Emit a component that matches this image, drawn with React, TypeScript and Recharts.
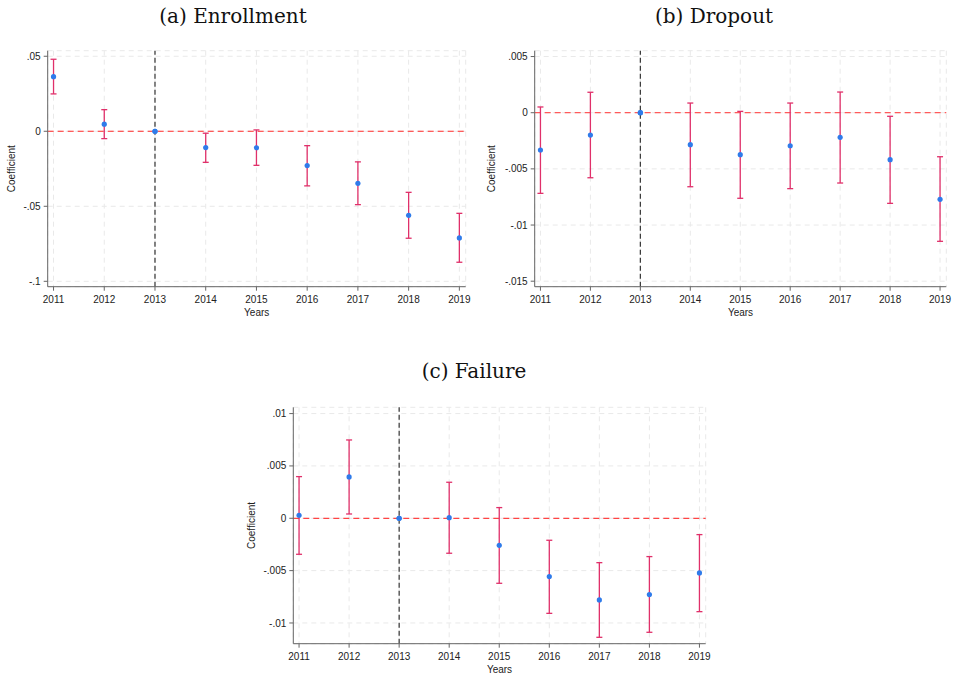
import React from 'react';
import {
    ScatterChart,
    Scatter,
    XAxis,
    YAxis,
    CartesianGrid,
    ReferenceLine,
    ReferenceDot,
    ErrorBar,
} from 'recharts';

// event-study years (2013 is the omitted reference year)
const years = [2011, 2012, 2013, 2014, 2015, 2016, 2017, 2018, 2019];
const baseYear = 2013;

// (a) Enrollment
const enrollCoef = [0.0364, 0.0047, 0, -0.0109, -0.011, -0.0229, -0.0347, -0.056, -0.0711];
const enrollLo = [0.0249, -0.0049, null, -0.0207, -0.0227, -0.0364, -0.0489, -0.0713, -0.0873];
const enrollHi = [0.048, 0.0144, null, -0.0013, 0.0009, -0.0096, -0.0204, -0.0407, -0.0547];
const enrollTicks = [-0.1, -0.05, 0, 0.05];

// (b) Dropout
const dropCoef = [-0.00332, -0.00199, 0, -0.00285, -0.00374, -0.00294, -0.00219, -0.00418, -0.00771];
const dropLo = [-0.00718, -0.00579, null, -0.00659, -0.00762, -0.00676, -0.00626, -0.00807, -0.01145];
const dropHi = [0.00051, 0.00182, null, 0.00086, 0.00012, 0.00086, 0.00184, -0.00032, -0.00392];
const dropTicks = [-0.015, -0.01, -0.005, 0, 0.005];

// (c) Failure
const failCoef = [0.00029, 0.00395, 0, 0.00006, -0.00258, -0.00557, -0.0078, -0.00729, -0.00522];
const failLo = [-0.00344, 0.00041, null, -0.00334, -0.00621, -0.00908, -0.01137, -0.01089, -0.00892];
const failHi = [0.00398, 0.00748, null, 0.00344, 0.00102, -0.0021, -0.00424, -0.00366, -0.00156];
const failTicks = [-0.01, -0.005, 0, 0.005, 0.01];

type Row = { year: number; coef: number; err: number[] | null };

const buildRows = (coef: number[], lo: (number | null)[], hi: (number | null)[]): Row[] =>
    years.map((year, i) => ({
        year,
        coef: coef[i],
        err: lo[i] === null || hi[i] === null ? null : [coef[i] - (lo[i] as number), (hi[i] as number) - coef[i]],
    }));

// Stata style labels: ".05", "-.005", "0"
const stataFmt = (v: number) => String(v).replace('0.', '.');

const axisColor = '#666';
const dotColor = '#2f7bea';
const tickStyle = { fontFamily: "'Liberation Sans', Arial, sans-serif", fontSize: 10, fill: '#222' };

type PanelProps = {
    rows: Row[];
    ticks: number[];
    yDomain: [number, number];
    width: number;
    height: number;
    margin: { top: number; right: number; bottom: number; left: number };
    yAxisWidth: number;
    yLabelOffset: number;
    zeroColor: string;
};

const Dot = (props: any) => <circle cx={props.cx} cy={props.cy} r={2.6} fill={dotColor} />;

const Panel: React.FC<PanelProps> = ({ rows, ticks, yDomain, width, height, margin, yAxisWidth, yLabelOffset, zeroColor }) => {
    const base = rows.find((r) => r.year === baseYear)!;
    return (
        <ScatterChart width={width} height={height} margin={margin}>
            <CartesianGrid stroke="#e9e9e9" strokeDasharray="5 4" />
            <XAxis
                type="number"
                dataKey="year"
                domain={[2010.885, 2019.125]}
                ticks={years}
                height={30}
                tick={tickStyle}
                tickSize={4}
                tickMargin={5}
                stroke={axisColor}
                label={{ value: 'Years', position: 'insideBottom', offset: 1, style: tickStyle }}
            />
            <YAxis
                type="number"
                dataKey="coef"
                domain={yDomain}
                ticks={ticks}
                width={yAxisWidth}
                tick={tickStyle}
                tickSize={4}
                tickMargin={3}
                tickFormatter={stataFmt}
                stroke={axisColor}
                allowDataOverflow
                label={{
                    value: 'Coefficient',
                    angle: -90,
                    position: 'insideLeft',
                    offset: yLabelOffset,
                    style: { ...tickStyle, textAnchor: 'middle' },
                }}
            />
            <ReferenceLine y={0} stroke={zeroColor} strokeWidth={1.2} strokeDasharray="6 4" />
            <ReferenceLine x={baseYear} stroke="#333" strokeWidth={1.2} strokeDasharray="5 3" />
            {/* keep the base-year estimate visible above the dashed lines */}
            <ReferenceDot x={base.year} y={base.coef} r={2.6} fill={dotColor} stroke="none" />
            <Scatter data={rows} shape={Dot} isAnimationActive={false}>
                <ErrorBar dataKey="err" direction="y" width={3} stroke="#e0306a" strokeWidth={1.3} />
            </Scatter>
        </ScatterChart>
    );
};

const titleStyle: React.CSSProperties = {
    position: 'absolute',
    width: 400,
    textAlign: 'center',
    fontFamily: "'DejaVu Serif', serif",
    fontSize: 20,
    lineHeight: '20px',
    color: '#111',
};

const App: React.FC = () => (
    <div style={{ position: 'absolute', left: 0, top: 0, width: 958, height: 677, background: '#fff' }}>
        <div style={{ ...titleStyle, left: 33, top: 6 }}>(a) Enrollment</div>
        <div style={{ ...titleStyle, left: 514, top: 6 }}>(b) Dropout</div>
        <div style={{ ...titleStyle, left: 274, top: 361 }}>(c) Failure</div>

        <div style={{ position: 'absolute', left: 0, top: 40 }}>
            <Panel
                rows={buildRows(enrollCoef, enrollLo, enrollHi)}
                ticks={enrollTicks}
                yDomain={[-0.1036, 0.0537]}
                width={480}
                height={290}
                margin={{ top: 10.7, right: 14.3, bottom: 13.3, left: 7.7 }}
                yAxisWidth={40}
                yLabelOffset={4}
                zeroColor="#ff2a2a"
            />
        </div>
        <div style={{ position: 'absolute', left: 478, top: 40 }}>
            <Panel
                rows={buildRows(dropCoef, dropLo, dropHi)}
                ticks={dropTicks}
                yDomain={[-0.01549, 0.00552]}
                width={480}
                height={290}
                margin={{ top: 10.7, right: 11.7, bottom: 13.3, left: 10.7 }}
                yAxisWidth={46}
                yLabelOffset={2.6}
                zeroColor="#ff5a5a"
            />
        </div>
        <div style={{ position: 'absolute', left: 240, top: 395 }}>
            <Panel
                rows={buildRows(failCoef, failLo, failHi)}
                ticks={failTicks}
                yDomain={[-0.01198, 0.0106]}
                width={480}
                height={282}
                margin={{ top: 12.3, right: 14.3, bottom: 3.3, left: 10.3 }}
                yAxisWidth={43}
                yLabelOffset={0.7}
                zeroColor="#ff4444"
            />
        </div>
    </div>
);

export default App;
